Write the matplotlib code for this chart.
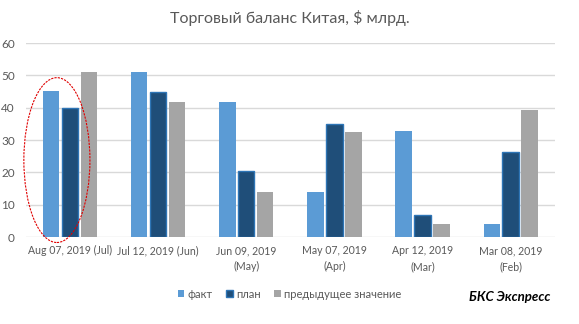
import matplotlib
matplotlib.use("Agg")
import matplotlib.pyplot as plt
from matplotlib.patches import Ellipse
import numpy as np

plt.rcParams['font.family'] = ['Lato', 'DejaVu Sans']

categories = ["Aug 07, 2019 (Jul)", "Jul 12, 2019 (Jun)", "Jun 09, 2019\n(May)",
              "May 07, 2019\n(Apr)", "Apr 12, 2019\n(Mar)", "Mar 08, 2019\n(Feb)"]
fact = [45.06, 50.98, 41.65, 13.84, 32.67, 4.12]
plan = [40.0, 45.0, 20.5, 35.0, 6.85, 26.38]
prev = [50.98, 41.66, 13.84, 32.64, 4.12, 39.16]
series_names = ["факт", "план", "предыдущее значение"]

fig = plt.figure(figsize=(5.79, 3.24), dpi=100)
ax = fig.add_axes([0.045, 0.2685, 0.913, 0.5985])

x = np.arange(len(categories))
w = 0.185
step = 0.215
ax.bar(x - step, fact, w, color="#5B9BD5", label=series_names[0], zorder=3)
ax.bar(x, plan, w, color="#1F4E79", edgecolor="#2E75B6", linewidth=1.0,
       label=series_names[1], zorder=3)
ax.bar(x + step, prev, w, color="#A5A5A5", label=series_names[2], zorder=3)

ax.set_xlim(-0.5, len(categories) - 0.5)
ax.set_ylim(0, 60)
ax.set_yticks(range(0, 61, 10))
ax.yaxis.grid(True, color="#D9D9D9", linewidth=1, zorder=0)
ax.set_axisbelow(True)
for s in ["top", "right", "left", "bottom"]:
    ax.spines[s].set_visible(False)
ax.tick_params(axis="both", length=0, labelsize=8.5, colors="#595959")
ax.tick_params(axis="y", pad=8)
ax.tick_params(axis="x", pad=6, labelsize=7.6)
ax.set_xticks(x)
ax.set_xticklabels(categories, linespacing=1.5)

fig.text(0.5, 0.945, "Торговый баланс Китая, $ млрд.", ha="center", va="center",
         fontsize=11.5, color="#595959")

ell = Ellipse((-0.15, 23.8), 0.75, 51, fill=False, edgecolor="#E00000",
              linestyle=(0, (2, 1)), linewidth=0.8, clip_on=False, zorder=5)
ax.add_patch(ell)

ax.legend(loc="center", bbox_to_anchor=(0.5, 0.092), bbox_transform=fig.transFigure,
          ncol=3, frameon=False, fontsize=8, handlelength=0.6, handleheight=0.6,
          handletextpad=0.3, columnspacing=1.2, labelcolor="#595959")

fig.text(0.88, 0.083, "БКС Экспресс", ha="center", va="center", fontsize=9.5,
         fontweight="bold", fontstyle="italic", color="black")

fig.savefig("out.png", dpi=100)
